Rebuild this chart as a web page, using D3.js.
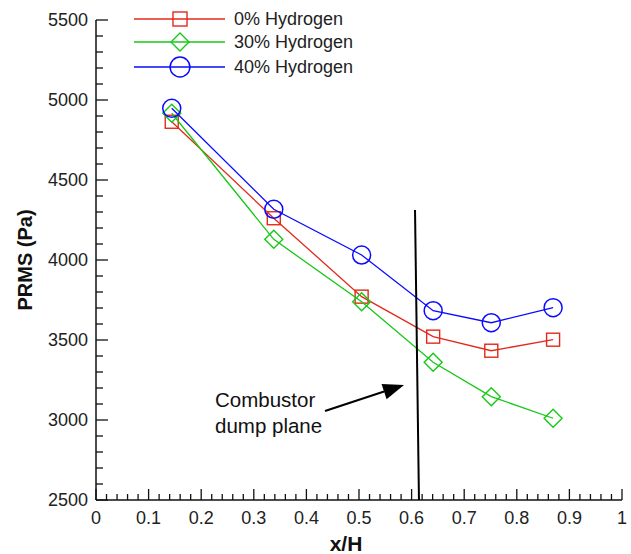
<!DOCTYPE html>
<html>
<head>
<meta charset="utf-8">
<script src="https://cdn.jsdelivr.net/npm/d3@7"></script>
<style>
  html, body { margin: 0; padding: 0; background: #fff; }
  svg { display: block; font-family: "Liberation Sans", Arial, Helvetica, sans-serif; }
</style>
</head>
<body>
<svg id="chart" width="631" height="554"></svg>
<script>
// ---- data ----
const xPositions = [0.144, 0.338, 0.505, 0.641, 0.7515, 0.869];
const hydrogen0 = [4864, 4261, 3771, 3521, 3433, 3502];
const hydrogen30 = [4917, 4129, 3739, 3361, 3146, 3011];
const hydrogen40 = [4948, 4317, 4031, 3683, 3608, 3702];
const seriesNames = ["0% Hydrogen", "30% Hydrogen", "40% Hydrogen"];
const xTickValues = [0, 0.1, 0.2, 0.3, 0.4, 0.5, 0.6, 0.7, 0.8, 0.9, 1];
const yTickValues = [2500, 3000, 3500, 4000, 4500, 5000, 5500];
const dumpPlaneX = [0.6065, 0.614];
const dumpPlaneY = [4312, 2500];
const arrowFrom = [0.4354, 3056];
const arrowTo = [0.5856, 3219];
const annotationLines = ["Combustor", "dump plane"];

// ---- layout ----
const svg = d3.select("#chart");
const mLeft = 96, mRight = 622, mTop = 20, mBottom = 500;
const x = d3.scaleLinear().domain([0, 1]).range([mLeft, mRight]);
const y = d3.scaleLinear().domain([2500, 5500]).range([mBottom, mTop]);

const colors = ["#e3291b", "#17c817", "#0a0aff"];
const shapes = ["square", "diamond", "circle"];
const seriesData = [hydrogen0, hydrogen30, hydrogen40];

// ---- axes ----
const axisColor = "#111";
const xMinor = d3.range(0, 1.0001, 0.02).filter(v => Math.abs(v*10 - Math.round(v*10)) > 1e-6);
const yMinor = d3.range(2500, 5501, 100).filter(v => v % 500 !== 0);

const gx = svg.append("g");
gx.append("line").attr("x1", x(0)).attr("x2", x(1)).attr("y1", mBottom).attr("y2", mBottom)
  .attr("stroke", axisColor).attr("stroke-width", 1.5);
gx.selectAll("line.maj").data(xTickValues).join("line").attr("class", "maj")
  .attr("x1", d => x(d)).attr("x2", d => x(d)).attr("y1", mBottom).attr("y2", mBottom - 11)
  .attr("stroke", axisColor).attr("stroke-width", 1.3);
gx.selectAll("line.min").data(xMinor).join("line").attr("class", "min")
  .attr("x1", d => x(d)).attr("x2", d => x(d)).attr("y1", mBottom).attr("y2", mBottom - 6)
  .attr("stroke", axisColor).attr("stroke-width", 1.3);
gx.selectAll("text").data(xTickValues).join("text")
  .attr("x", d => x(d)).attr("y", mBottom + 23.5)
  .attr("text-anchor", "middle").attr("font-size", 18).attr("fill", "#222")
  .text(d => d3.format("~g")(d));

const gy = svg.append("g");
gy.append("line").attr("x1", mLeft).attr("x2", mLeft).attr("y1", y(5500)).attr("y2", y(2500))
  .attr("stroke", axisColor).attr("stroke-width", 1.5);
gy.selectAll("line.maj").data(yTickValues).join("line").attr("class", "maj")
  .attr("x1", mLeft).attr("x2", mLeft + 12).attr("y1", d => y(d)).attr("y2", d => y(d))
  .attr("stroke", axisColor).attr("stroke-width", 1.3);
gy.selectAll("line.min").data(yMinor).join("line").attr("class", "min")
  .attr("x1", mLeft).attr("x2", mLeft + 7).attr("y1", d => y(d)).attr("y2", d => y(d))
  .attr("stroke", axisColor).attr("stroke-width", 1.3);
gy.selectAll("text").data(yTickValues).join("text")
  .attr("x", mLeft - 8).attr("y", d => y(d)).attr("dy", "0.35em")
  .attr("text-anchor", "end").attr("font-size", 18).attr("fill", "#222")
  .text(d => d);

// axis titles
svg.append("text").attr("x", 346).attr("y", 551).attr("text-anchor", "middle")
  .attr("font-size", 21).attr("font-weight", "bold").attr("fill", "#111").text("x/H");
svg.append("text").attr("transform", "translate(32,260) rotate(-90)").attr("text-anchor", "middle")
  .attr("font-size", 20).attr("font-weight", "bold").attr("fill", "#111").text("PRMS (Pa)");

// ---- marker helper ----
function drawMarker(g, shape, cx, cy, color, scale) {
  const s = scale || 1;
  if (shape === "square") {
    const h = 6.5 * s;
    g.append("rect").attr("x", cx - h).attr("y", cy - h).attr("width", 2*h).attr("height", 2*h)
      .attr("fill", "none").attr("stroke", color).attr("stroke-width", 1.4);
  } else if (shape === "diamond") {
    const h = 9 * s;
    g.append("path").attr("d", `M${cx},${cy-h}L${cx+h},${cy}L${cx},${cy+h}L${cx-h},${cy}Z`)
      .attr("fill", "none").attr("stroke", color).attr("stroke-width", 1.4);
  } else {
    g.append("circle").attr("cx", cx).attr("cy", cy).attr("r", 9 * s)
      .attr("fill", "none").attr("stroke", color).attr("stroke-width", 1.5);
  }
}

// ---- series ----
const line = d3.line().x((d, i) => x(xPositions[i])).y(d => y(d));
seriesData.forEach((vals, k) => {
  const g = svg.append("g");
  g.append("path").datum(vals).attr("d", line)
    .attr("fill", "none").attr("stroke", colors[k]).attr("stroke-width", 1.3);
  vals.forEach((v, i) => drawMarker(g, shapes[k], x(xPositions[i]), y(v), colors[k]));
});

// ---- dump plane line ----
svg.append("line")
  .attr("x1", x(dumpPlaneX[0])).attr("y1", y(dumpPlaneY[0]))
  .attr("x2", x(dumpPlaneX[1])).attr("y2", y(dumpPlaneY[1]))
  .attr("stroke", "#000").attr("stroke-width", 2);

// ---- annotation arrow ----
const ax1 = x(arrowFrom[0]), ay1 = y(arrowFrom[1]), ax2 = x(arrowTo[0]), ay2 = y(arrowTo[1]);
const ang = Math.atan2(ay2 - ay1, ax2 - ax1);
const headLen = 21, headW = 8;
const bx = ax2 - headLen * Math.cos(ang), by = ay2 - headLen * Math.sin(ang);
svg.append("line").attr("x1", ax1).attr("y1", ay1).attr("x2", bx).attr("y2", by)
  .attr("stroke", "#000").attr("stroke-width", 2);
svg.append("path")
  .attr("d", `M${ax2},${ay2}L${bx + headW*Math.sin(ang)},${by - headW*Math.cos(ang)}L${bx - headW*Math.sin(ang)},${by + headW*Math.cos(ang)}Z`)
  .attr("fill", "#000");
svg.append("text").attr("x", 215).attr("y", 407).attr("font-size", 20.5).attr("fill", "#111")
  .selectAll("tspan").data(annotationLines).join("tspan")
  .attr("x", 215).attr("dy", (d, i) => i === 0 ? 0 : 26).text(d => d);

// ---- legend ----
const legend = svg.append("g");
const legendRows = [19, 42, 67];
seriesNames.forEach((name, k) => {
  const ly = legendRows[k];
  legend.append("line").attr("x1", 134).attr("x2", 225).attr("y1", ly).attr("y2", ly)
    .attr("stroke", colors[k]).attr("stroke-width", 1.3);
  drawMarker(legend, shapes[k], 180, ly, colors[k], k === 0 ? 1.08 : (k === 2 ? 1.1 : 1));
  legend.append("text").attr("x", 234).attr("y", ly).attr("dy", "0.36em")
    .attr("font-size", 18).attr("fill", "#222").text(name);
});
</script>
</body>
</html>
